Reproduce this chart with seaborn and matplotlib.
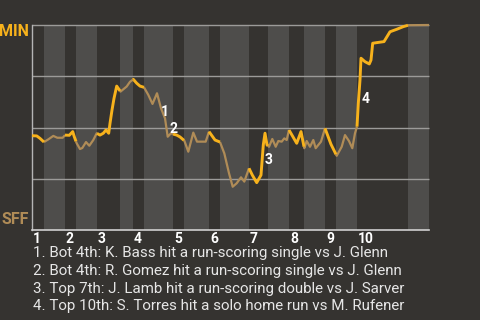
import matplotlib
matplotlib.use("Agg")
import matplotlib.pyplot as plt
import matplotlib.transforms as mtrans
import seaborn as sns
import pandas as pd
import numpy as np

# ---- data ----
play = [0, 4.7, 8, 12, 16.3, 21.3, 25.3, 30.7, 33, 37.3, 40.7, 42.3, 44.7, 48, 50.3, 54,
        57.3, 61.3, 64.7, 68, 71.3, 74, 76.7, 78, 80, 82, 84.7, 88.5, 94.7, 98, 101.3,
        104.7, 108, 112, 116.3, 120.5, 125, 129, 133, 135.7, 139, 141, 144.7, 148, 152.3,
        156.3, 161.3, 165, 173.7, 177, 183, 188, 192.3, 197, 200.7, 204.7, 209, 212.3,
        217, 220.3, 224.7, 229, 231.3, 233, 235, 237, 240.3, 243.7, 246.3, 249.7, 252.3,
        254.7, 257, 264.7, 269, 272.3, 274.7, 278, 281.3, 283.7, 289, 293, 299, 304.7,
        309.7, 313, 317, 320.3, 323, 325, 326.3, 328, 329, 333, 337.3, 339, 340.7, 344.7,
        352, 354, 358, 364.7, 371.3, 376.3, 397]
min_win_prob = [0.46, 0.459, 0.447, 0.429, 0.442, 0.459, 0.45, 0.45, 0.463, 0.462, 0.48,
                0.455, 0.423, 0.395, 0.4, 0.429, 0.411, 0.439, 0.472, 0.463, 0.472, 0.488,
                0.472, 0.52, 0.585, 0.642, 0.702, 0.675, 0.7, 0.723, 0.735, 0.716, 0.702,
                0.696, 0.659, 0.615, 0.667, 0.594, 0.545, 0.455, 0.472, 0.468, 0.463, 0.454,
                0.436, 0.382, 0.475, 0.431, 0.431, 0.48, 0.439, 0.429, 0.374, 0.277, 0.211,
                0.228, 0.257, 0.236, 0.301, 0.268, 0.231, 0.268, 0.415, 0.472, 0.415, 0.406,
                0.444, 0.406, 0.434, 0.431, 0.447, 0.439, 0.488, 0.423, 0.48, 0.399, 0.434,
                0.406, 0.439, 0.399, 0.431, 0.496, 0.418, 0.362, 0.406, 0.463, 0.434, 0.399,
                0.472, 0.504, 0.618, 0.732, 0.838, 0.821, 0.81, 0.829, 0.911, 0.914, 0.919,
                0.935, 0.967, 0.979, 0.992, 0.999, 1.0]
# half-inning boundaries (play index): top1, bot1, top2, bot2, ...
half_starts = [0, 12, 33, 44, 65, 88, 101, 112, 141, 152, 177, 188, 217, 236, 257, 272,
               293, 304, 325, 376]
game_end = 397
inning_labels = ["1", "2", "3", "4", "5", "6", "7", "8", "9", "10"]
team_top = "MIN"
team_bottom = "SFF"
event_ids = ["1", "2", "3", "4"]
event_play = [132.7, 141, 236.8, 333.3]
event_prob = [0.577, 0.491, 0.343, 0.64]
event_text = [
    "1. Bot 4th: K. Bass hit a run-scoring single vs J. Glenn",
    "2. Bot 4th: R. Gomez hit a run-scoring single vs J. Glenn",
    "3. Top 7th: J. Lamb hit a run-scoring double vs J. Sarver",
    "4. Top 10th: S. Torres hit a solo home run vs M. Rufener",
]

# ---- style ----
BG = "#353330"
STRIPE = "#4e4d4b"
GOLD = "#f7b21c"
TAN = "#b08c57"
GRID = "#9c9b99"

sns.set_theme(style="dark")
plt.rcParams["font.family"] = ["Roboto", "DejaVu Sans"]

fig, ax = plt.subplots(figsize=(4.8, 3.2), dpi=100)
fig.patch.set_facecolor(BG)
ax.set_facecolor(BG)
fig.subplots_adjust(left=32 / 480, right=429 / 480, top=1 - 25 / 320, bottom=1 - 230 / 320)

bounds = half_starts + [game_end]
for i in range(len(half_starts)):
    if i % 2 == 1:
        ax.axvspan(bounds[i], bounds[i + 1], color=STRIPE, lw=0, zorder=0)

for yv in [0.25, 0.5, 0.75, 1.0]:
    ax.axhline(yv, color=GRID, lw=1.0, zorder=1)

px = np.array(play, dtype=float)
py = np.array(min_win_prob, dtype=float)
seg_frames = []
for i in range(len(half_starts)):
    s, e = bounds[i], bounds[i + 1]
    inside = (px > s) & (px < e)
    xs = np.concatenate([[s], px[inside], [e]])
    ys = np.interp(xs, px, py)
    seg_frames.append(pd.DataFrame({"play": xs, "win_prob": ys,
                                    "half": "top" if i % 2 == 0 else "bottom",
                                    "seg": i}))
segs = pd.concat(seg_frames, ignore_index=True)

sns.lineplot(data=segs[segs["half"] == "bottom"], x="play", y="win_prob", units="seg",
             estimator=None, ax=ax, color=TAN, lw=1.6, zorder=3, sort=False)
sns.lineplot(data=segs[segs["half"] == "top"], x="play", y="win_prob", units="seg",
             estimator=None, ax=ax, color=GOLD, lw=2.1, zorder=4, sort=False)
for ln in ax.lines:
    ln.set_clip_on(False)
    ln.set_solid_capstyle("butt")

ax.set_xlim(0, game_end)
ax.set_ylim(0, 1)
ax.set_xlabel("")
ax.set_ylabel("")
ax.grid(False)
ax.set_yticks([])
inning_starts = half_starts[0::2]
ax.set_xticks(inning_starts)
ax.set_xticklabels(inning_labels, ha="left", color="white", fontsize=10, fontweight="bold")
ax.tick_params(axis="x", length=0, pad=1.5)
offset = mtrans.ScaledTranslation(1 / 100, 0, fig.dpi_scale_trans)
for lab in ax.get_xticklabels():
    lab.set_transform(lab.get_transform() + offset)

for side in ["top", "right"]:
    ax.spines[side].set_visible(False)
ax.spines["left"].set_color("#b5b5b5")
ax.spines["bottom"].set_color("#d0d0d0")
ax.spines["left"].set_linewidth(1.0)
ax.spines["bottom"].set_linewidth(1.2)

for t, xv, yv in zip(event_ids, event_play, event_prob):
    ax.text(xv, yv, t, color="white", fontsize=10, fontweight="bold",
            ha="center", va="center", zorder=5)

fig.text(29 / 480, 1 - 31 / 320, team_top, color=GOLD, fontsize=11.5, fontweight="bold",
         ha="right", va="center")
fig.text(29 / 480, 1 - 220 / 320, team_bottom, color=TAN, fontsize=11.5, fontweight="bold",
         ha="right", va="center")

for k, txt in enumerate(event_text):
    yc = [253, 271, 288.5, 306][k]
    fig.text(33 / 480, 1 - yc / 320, txt, color="#e6e6e6", fontsize=10.9,
             ha="left", va="center")

fig.savefig("out.png", dpi=100, facecolor=BG)
